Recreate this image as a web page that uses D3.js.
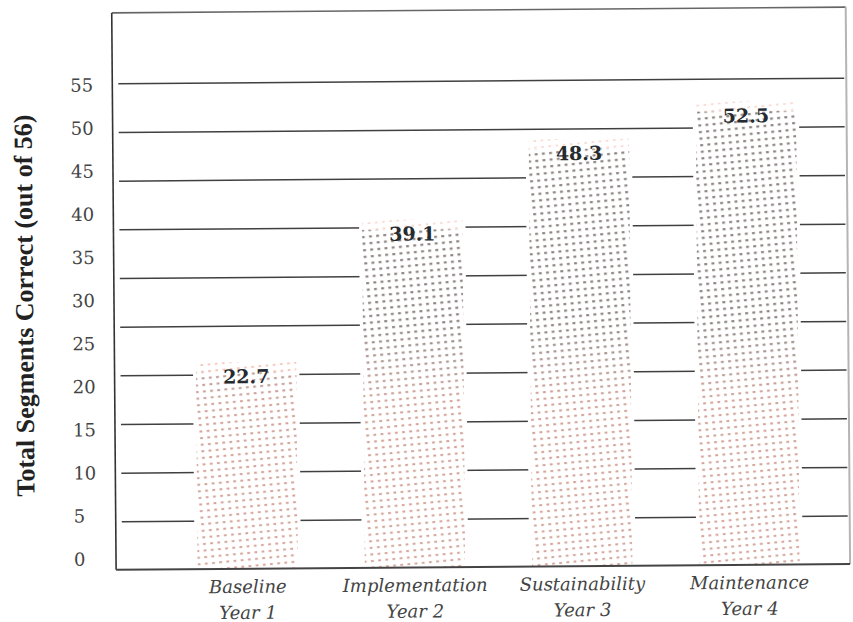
<!DOCTYPE html>
<html>
<head>
<meta charset="utf-8">
<script src="https://cdn.jsdelivr.net/npm/d3@7"></script>
<style>
  body { margin: 0; background: #fff; }
  svg { display: block; }
</style>
</head>
<body>
<svg id="chart" width="853" height="622"></svg>
<script>
// Phase names and study years along the x axis
const categories = ["Baseline", "Implementation", "Sustainability", "Maintenance"];
const years = ["Year 1", "Year 2", "Year 3", "Year 4"];
// Mean total segments correct per phase
const values = [22.7, 39.1, 48.3, 52.5];
// Axis tick labels and horizontal rule levels
const tickValues = [0, 5, 10, 15, 20, 25, 30, 35, 40, 45, 50, 55];
const ruleLevels = [5, 10, 15, 20, 25, 30, 35, 40, 45, 50];

const W = 853, H = 622;
const frame = { left: 114, right: 848, top: 10, bottom: 567 };

const svg = d3.select("#chart");
svg.append("rect").attr("width", W).attr("height", H).attr("fill", "#fff");

const defs = svg.append("defs");

// halftone screens (grey and salmon) on the same lattice, used to fill the bars
function screen(id, color, w, h) {
  const p = defs.append("pattern")
    .attr("id", id).attr("patternUnits", "userSpaceOnUse")
    .attr("width", 7.2).attr("height", 6.6)
    .attr("patternTransform", "rotate(-5)");
  p.append("rect").attr("x", 2).attr("y", 2).attr("width", w).attr("height", h).attr("fill", color);
}
screen("dotsGrey", "#7f7f7f", 2.8, 2.1);
screen("dotsPink", "#f29a86", 2.6, 1.7);

// the grey screen is dense in the upper part of the plot, salmon dominates lower down
function shade(id, stops) {
  const g = defs.append("linearGradient").attr("id", id)
    .attr("gradientUnits", "userSpaceOnUse")
    .attr("x1", 0).attr("x2", 0).attr("y1", 0).attr("y2", H);
  stops.forEach(([o, a]) => g.append("stop").attr("offset", o).attr("stop-color", "#fff").attr("stop-opacity", a));
  defs.append("mask").attr("id", id + "Mask")
    .attr("maskUnits", "userSpaceOnUse").attr("x", 0).attr("y", 0).attr("width", W).attr("height", H)
    .append("rect").attr("width", W).attr("height", H).attr("fill", `url(#${id})`);
}
shade("greyShade", [[0, 0.95], [0.52, 0.95], [0.64, 0.3], [1, 0.25]]);
shade("pinkShade", [[0, 0.4], [0.52, 0.4], [0.64, 0.85], [1, 0.8]]);

const g = svg.append("g").attr("transform", "rotate(-0.45 480 300)");

// scales
const x = d3.scaleBand().domain(categories).range([162, 831]).paddingInner(0.4).paddingOuter(0.2);
const y = d3.scaleLinear().domain([0, 55]).range([556, 82]);
const ruleY = d3.scaleLinear().domain([5, 50]).range([519, 81]);

// horizontal rules
g.append("g").selectAll("line").data(ruleLevels).join("line")
  .attr("x1", 120).attr("x2", frame.right - 2)
  .attr("y1", d => ruleY(d)).attr("y2", d => ruleY(d))
  .attr("stroke", "#404040").attr("stroke-width", 1.5);

// frame
g.append("line").attr("x1", frame.left).attr("x2", frame.right).attr("y1", frame.top).attr("y2", frame.top)
  .attr("stroke", "#666").attr("stroke-width", 1.6);
g.append("line").attr("x1", frame.right).attr("x2", frame.right).attr("y1", frame.top).attr("y2", frame.bottom)
  .attr("stroke", "#b5b5b5").attr("stroke-width", 2);
g.append("line").attr("x1", frame.left).attr("x2", frame.left).attr("y1", frame.top).attr("y2", frame.bottom)
  .attr("stroke", "#333").attr("stroke-width", 1.6);

// bars
const bars = g.append("g").selectAll("g").data(values).join("g");
bars.append("rect")
  .attr("x", (d, i) => x(categories[i]) - 3).attr("width", x.bandwidth() + 6)
  .attr("y", d => y(d)).attr("height", d => frame.bottom - y(d))
  .attr("fill", "#fff");
bars.append("rect")
  .attr("x", (d, i) => x(categories[i])).attr("width", x.bandwidth())
  .attr("y", d => y(d)).attr("height", d => frame.bottom - y(d))
  .attr("fill", "url(#dotsPink)").attr("mask", "url(#pinkShadeMask)");
bars.append("rect")
  .attr("x", (d, i) => x(categories[i])).attr("width", x.bandwidth())
  .attr("y", d => y(d) + 10).attr("height", d => frame.bottom - y(d) - 10)
  .attr("fill", "url(#dotsGrey)").attr("mask", "url(#greyShadeMask)");

// value labels
bars.append("text")
  .attr("x", (d, i) => x(categories[i]) + x.bandwidth() / 2)
  .attr("y", d => y(d) + 21)
  .attr("text-anchor", "middle")
  .attr("font-family", "DejaVu Serif")
  .attr("font-weight", "bold")
  .attr("font-size", 19)
  .attr("fill", "#262b2f")
  .text(d => d.toFixed(1));

// bottom axis line
g.append("line").attr("x1", frame.left).attr("x2", frame.right).attr("y1", frame.bottom).attr("y2", frame.bottom)
  .attr("stroke", "#444").attr("stroke-width", 2);

// y tick labels
g.append("g").selectAll("text").data(tickValues).join("text")
  .attr("x", 72).attr("y", d => y(d))
  .attr("dy", "0.36em")
  .attr("font-family", "DejaVu Serif")
  .attr("font-size", 18)
  .attr("fill", "#444")
  .text(d => d);

// y axis title
g.append("text")
  .attr("transform", "translate(33,302) rotate(-90)")
  .attr("text-anchor", "middle")
  .attr("font-family", "Liberation Serif")
  .attr("font-weight", "bold")
  .attr("font-size", 26)
  .attr("fill", "#222")
  .text("Total Segments Correct (out of 56)");

// category labels
const cat = g.append("g").selectAll("text").data(categories).join("text")
  .attr("text-anchor", "middle")
  .attr("font-family", "DejaVu Serif")
  .attr("font-style", "italic")
  .attr("font-size", 18)
  .attr("fill", "#444");
cat.append("tspan").attr("x", d => x(d) + x.bandwidth() / 2).attr("y", 591).text(d => d);
cat.append("tspan").attr("x", d => x(d) + x.bandwidth() / 2).attr("y", 617).text((d, i) => years[i]);
</script>
</body>
</html>
